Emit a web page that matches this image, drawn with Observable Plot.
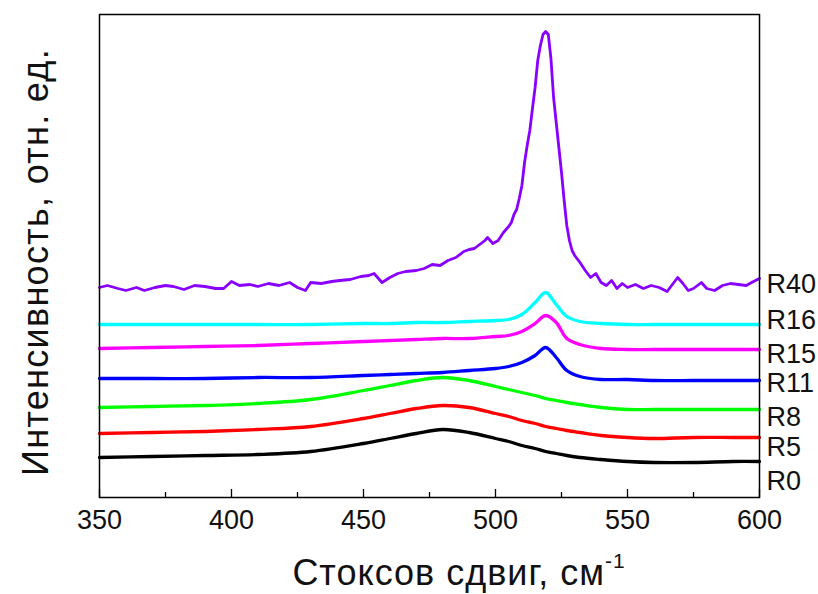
<!DOCTYPE html>
<html>
<head>
<meta charset="utf-8">
<script src="https://cdn.jsdelivr.net/npm/d3@7"></script>
<script src="https://cdn.jsdelivr.net/npm/@observablehq/plot@0.6"></script>
<style>
  html, body { margin: 0; padding: 0; background: #fff; }
  #chart { width: 818px; height: 594px; }
</style>
</head>
<body>
<div id="chart"></div>
<script>
// Raman shift grid (cm^-1) for the smooth spectra
const gridX = [350, 370, 390, 410, 430, 450, 460, 470, 480, 490, 500, 505, 510, 515, 519, 523, 527, 532, 540, 550, 560, 575, 590, 600];
// Intensities (arb. units, offset per sample)
const r0  = [40, 41, 42, 43, 46, 54, 59, 64, 68, 65, 59, 56, 52, 49, 46, 44, 42, 40, 38, 36, 35, 35, 36, 36];
const r5  = [64, 65, 66, 68, 71, 79, 84, 89, 92, 90, 84, 81, 77, 74, 71, 69, 67, 65, 62, 60, 59, 60, 60, 60];
const r8  = [90, 91, 92, 94, 98, 107, 112, 117, 120, 117, 111, 108, 105, 102, 99, 97, 95, 93, 90, 88, 88, 88, 88, 88];
const r11 = [119, 119, 119, 120, 120, 122, 123, 124, 125, 127, 129, 131, 135, 142, 150, 140, 127, 121, 118, 118, 117, 117, 117, 117];
const r15 = [149, 150, 151, 152, 154, 156, 157, 158, 159, 159, 161, 162, 166, 174, 182, 175, 159, 153, 149, 148, 148, 148, 148, 148];
const r16 = [173, 173, 173, 173, 173, 174, 174, 175, 175, 176, 177, 178, 183, 195, 205, 193, 181, 176, 174, 173, 173, 173, 173, 173];
// R40 spectrum (noisy, denser sampling)
const r40X = [350, 353, 357, 360, 364, 367, 371, 375, 378, 382, 386, 390, 394, 397, 400, 403, 407, 410, 414, 418, 422, 425, 428, 430, 434, 438, 441, 445, 449, 452, 454, 457, 460, 463, 466, 470, 473, 476, 479, 482, 485, 488, 490, 492, 494, 496, 497, 499, 501, 503, 505, 506, 507, 508, 509, 510, 511, 512, 513, 514, 515, 516, 517, 518, 519, 520, 521, 522, 523, 524, 525, 526, 527, 528, 529, 530, 532, 534, 536, 538, 540, 542, 544, 546, 548, 550, 553, 556, 559, 562, 565, 567, 569, 571, 573, 575, 578, 580, 583, 586, 589, 592, 595, 597, 600];
const r40  = [210, 212, 209, 207, 210, 207, 210, 212, 211, 208, 212, 211, 209, 209, 216, 212, 213, 211, 214, 212, 215, 210, 207, 215, 214, 216, 217, 218, 221, 222, 224, 215, 220, 224, 226, 227, 229, 233, 232, 237, 240, 246, 248, 249, 253, 257, 260, 254, 257, 265, 271, 275, 283, 288, 299, 312, 335, 352, 367, 389, 410, 437, 452, 463, 466, 463, 439, 400, 375, 350, 325, 297, 272, 257, 247, 242, 235, 227, 220, 224, 215, 212, 217, 209, 214, 210, 213, 209, 212, 210, 206, 213, 220, 214, 207, 209, 215, 209, 207, 212, 214, 213, 212, 215, 219];

const seriesNames  = ["R0", "R5", "R8", "R11", "R15", "R16", "R40"];
const seriesColors = ["#000000", "#ff0000", "#00ff00", "#0000ff", "#ff00ff", "#00ffff", "#8a00ff"];
const labelY       = [16, 50, 80, 114, 143, 177, 213];
const majorTicks = [350, 400, 450, 500, 550, 600];
const minorTicks = [375, 425, 475, 525, 575];

const smooth = [r0, r5, r8, r11, r15, r16];
const font = "'Liberation Sans', Arial, sans-serif";

const marks = [];
smooth.forEach((vals, i) => {
  const data = gridX.map((x, j) => ({x, y: vals[j]}));
  marks.push(Plot.line(data, {x: "x", y: "y", stroke: seriesColors[i], strokeWidth: 3.3, curve: "catmull-rom"}));
});
marks.push(Plot.line(r40X.map((x, j) => ({x, y: r40[j]})), {x: "x", y: "y", stroke: seriesColors[6], strokeWidth: 2.8, curve: "linear"}));

const labels = seriesNames.map((name, i) => ({name, y: labelY[i]}));
marks.push(Plot.text(labels, {x: () => 600, y: "y", text: "name", textAnchor: "start", dx: 7, fontSize: 27, fill: "#111", clip: false}));

marks.push(Plot.ruleX(majorTicks, {x: d => d, y1: 0, y2: 8, stroke: "#000", strokeWidth: 1.3}));
marks.push(Plot.ruleX(minorTicks, {x: d => d, y1: 0, y2: 5, stroke: "#000", strokeWidth: 1.3}));
marks.push(Plot.axisX(majorTicks, {anchor: "bottom", tickSize: 0, tickPadding: 12, fontSize: 27, label: null, tickFormat: d => String(d), color: "#111"}));
marks.push(Plot.frame({stroke: "#000", strokeWidth: 1.5}));

const chart = Plot.plot({
  width: 818,
  height: 594,
  marginLeft: 99,
  marginRight: 59,
  marginTop: 14,
  marginBottom: 97,
  style: {fontFamily: font, background: "#fff", overflow: "visible"},
  x: {domain: [350, 600]},
  y: {domain: [0, 483], axis: null},
  marks
});

const svg = d3.select(chart);
const xt = svg.append("text")
  .attr("x", 459).attr("y", 585)
  .attr("text-anchor", "middle")
  .attr("font-family", font)
  .attr("font-size", 36)
  .attr("letter-spacing", 1)
  .attr("fill", "#111");
xt.append("tspan").text("Стоксов сдвиг, см");
xt.append("tspan").attr("font-size", 21).attr("dy", -17).text("-1");

svg.append("text")
  .attr("transform", "translate(48,262) rotate(-90)")
  .attr("text-anchor", "middle")
  .attr("font-family", font)
  .attr("font-size", 36)
  .attr("letter-spacing", 1.3)
  .attr("fill", "#111")
  .text("Интенсивность, отн. ед.");

document.getElementById("chart").appendChild(chart);
</script>
</body>
</html>
